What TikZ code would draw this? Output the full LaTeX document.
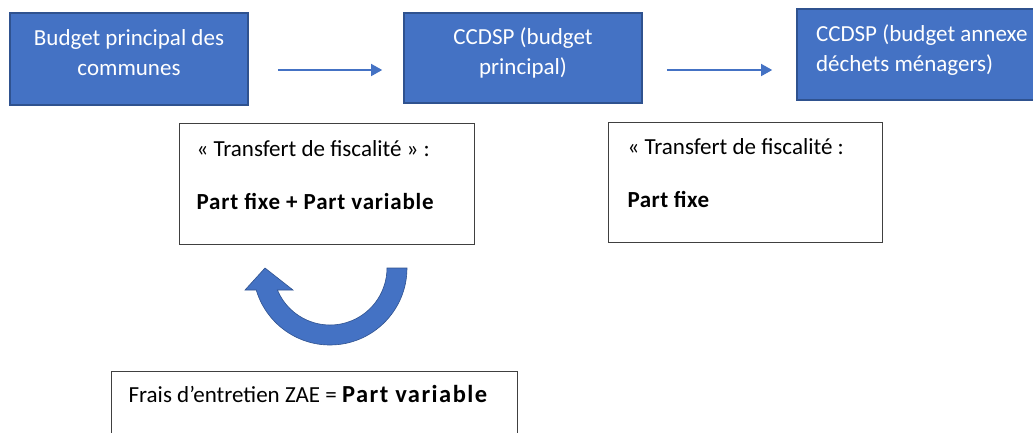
\documentclass[tikz,border=0pt]{standalone}
\usepackage{fontspec}
\setmainfont{Carlito}
\usepackage{tikz}
\usetikzlibrary{calc,arrows.meta}

\definecolor{officeblue}{HTML}{4472C4}
\definecolor{officeedge}{HTML}{2F528F}

\tikzset{
  budget/.style={draw=officeedge, line width=1.6pt, fill=officeblue, text=white,
    font=\fontsize{23}{30.5}\selectfont, inner sep=0pt, text height=16.5pt},
  fiscal/.style={draw=black!75, line width=1.2pt, fill=white, align=flush left,
    font=\fontsize{23}{30}\selectfont, anchor=north west, text height=16.5pt},
  flow/.style={officeblue, line width=1.4pt, -{Triangle[length=11pt,width=12pt]}}
}

\begin{document}
\begin{tikzpicture}[x=1pt, y=-1pt]
            \useasboundingbox (0,0) rectangle (1033,432);

            % Draw the three budgets as blue boxes
            \node[budget, minimum width=238pt, minimum height=92pt, text width=220pt,
                align=flush center, text depth=44.5pt] (communes) at (129,59)
                {Budget principal des\\communes};
            \node[budget, minimum width=238pt, minimum height=90pt, text width=220pt,
                align=flush center, text depth=44.5pt] (principal) at (523,58)
                {CCDSP (budget\\principal)};
            \node[budget, minimum height=91pt, text width=230pt, inner xsep=19pt,
                align=flush left, text depth=43.5pt] (annexe) at (931,54.5)
                {CCDSP (budget annexe\\déchets ménagers)};

            % Draw the arrows between the budgets
            \draw[flow] ([shift={(29,11)}]communes.east) -- ([shift={(-21,12)}]principal.west);
            \draw[flow] ([shift={(24,12)}]principal.east) -- ([shift={(-24,15.5)}]annexe.west);

            % Label the tax transfers
            \node[fiscal, text width=261pt, inner xsep=17pt, inner ysep=16.5pt,
                text depth=71.5pt] (mixte) at (179,123)
                {« Transfert de fiscalité » :\\[23pt]{\bfseries\addfontfeatures{LetterSpace=3.5}Part fixe + Part variable}};
            \node[fiscal, text width=236pt, inner xsep=19pt, inner ysep=15.5pt,
                text depth=72.5pt] (fixe) at (608,122)
                {« Transfert de fiscalité :\\[23pt]{\bfseries\addfontfeatures{LetterSpace=2}Part fixe}};

            % Draw the curved arrow back up to the transfer box
            \coordinate (tail) at (407,268);
            \coordinate (tip) at (265,268);
            \fill[officeblue, draw=officeedge, line width=0.6pt] (tail)
                arc[start angle=0, end angle=163.4, radius=77]
                -- (245,290) -- (tip) -- (293,290) -- (277.4,290)
                arc[start angle=157.3, end angle=0, radius=57] -- cycle;

            % Label the maintenance costs
            \node[fiscal, text width=372pt, inner xsep=17pt, inner ysep=14.5pt,
                text depth=60pt] (zae) at (111,371)
                {Frais d’entretien ZAE = {\fontsize{24.5}{30}\bfseries\addfontfeatures{LetterSpace=6}Part variable}};
        \end{tikzpicture}
\end{document}
